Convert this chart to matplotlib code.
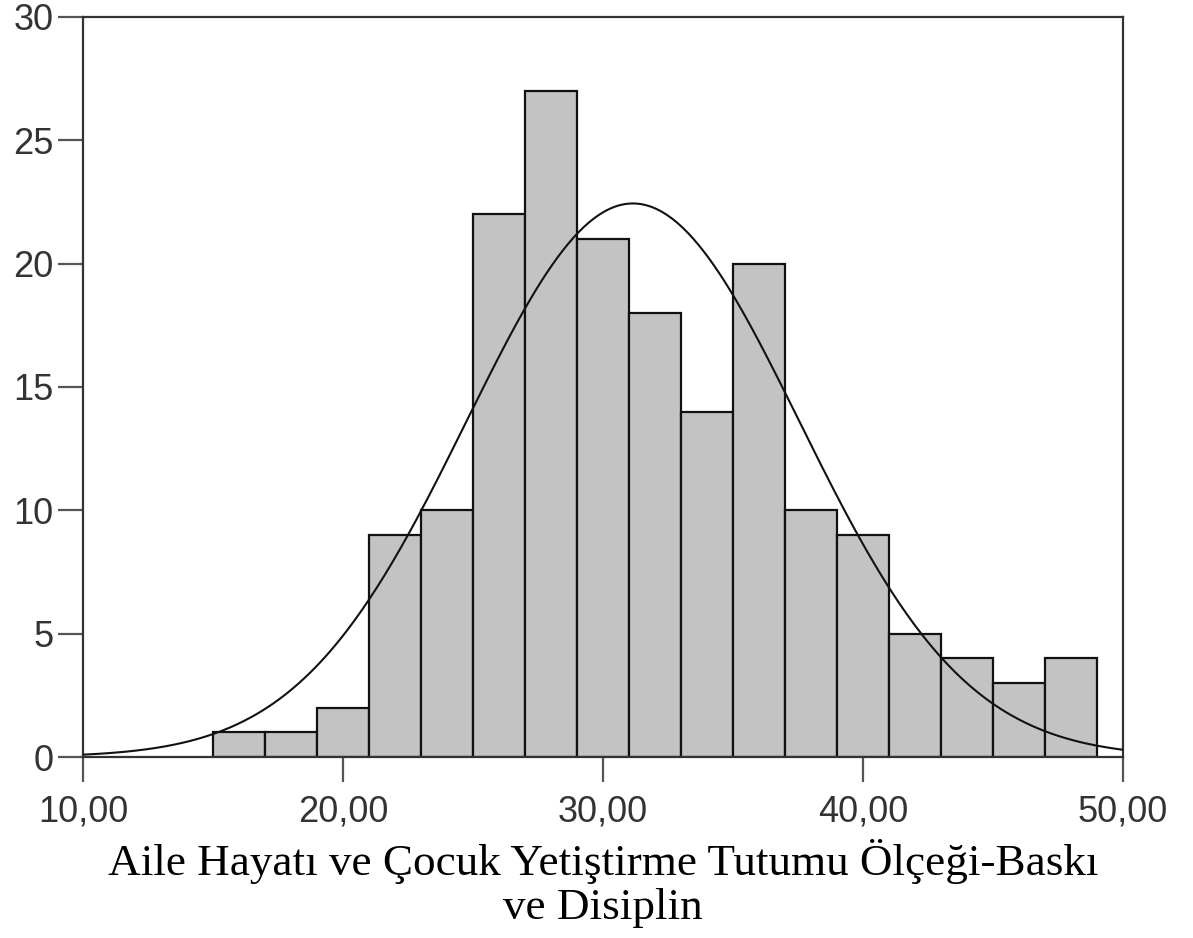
import numpy as np
import matplotlib.pyplot as plt

# histogram bins (left edges, width 2) and frequencies
bin_left = [15, 17, 19, 21, 23, 25, 27, 29, 31, 33, 35, 37, 39, 41, 43, 45, 47]
counts = [1, 1, 2, 9, 10, 22, 27, 21, 18, 14, 20, 10, 9, 5, 4, 3, 4]
bin_width = 2

# normal curve parameters
curve_mean = 31.15
curve_sd = 6.4

x_ticks = [10, 20, 30, 40, 50]
x_tick_labels = ['10,00', '20,00', '30,00', '40,00', '50,00']
y_ticks = [0, 5, 10, 15, 20, 25, 30]
x_label = 'Aile Hayatı ve Çocuk Yetiştirme Tutumu Ölçeği-Baskı\nve Disiplin'

fig = plt.figure(figsize=(11.93, 9.38), dpi=100)
ax = fig.add_axes([83 / 1193, (938 - 757) / 938, (1123 - 83) / 1193, (757 - 17) / 938])

ax.bar(bin_left, counts, width=bin_width, align='edge',
       color='#c3c3c3', edgecolor='#111111', linewidth=1.6, zorder=2)

# fitted normal curve scaled to counts
n_total = sum(counts)
xs = np.linspace(10, 50, 400)
ys = n_total * bin_width / (curve_sd * np.sqrt(2 * np.pi)) * np.exp(-0.5 * ((xs - curve_mean) / curve_sd) ** 2)
ax.plot(xs, ys, color='#111111', linewidth=1.5, zorder=3)

ax.set_xlim(10, 50)
ax.set_ylim(0, 30)
ax.set_xticks(x_ticks)
ax.set_xticklabels(x_tick_labels)
ax.set_yticks(y_ticks)

for side in ['left', 'right', 'top', 'bottom']:
    ax.spines[side].set_color('#333333')
    ax.spines[side].set_linewidth(1.6)

ax.tick_params(axis='both', direction='out', length=18, width=1.6, color='#555555',
               labelsize=26, labelcolor='#333333')
ax.tick_params(axis='x', pad=9)
ax.tick_params(axis='y', pad=3)
for lab in ax.get_xticklabels() + ax.get_yticklabels():
    lab.set_family('Liberation Sans')

ax.set_xlabel(x_label, family='Liberation Serif', fontsize=32.5, color='#000000',
              labelpad=7, linespacing=1.12)

fig.savefig('out.png', dpi=100, facecolor='white')
